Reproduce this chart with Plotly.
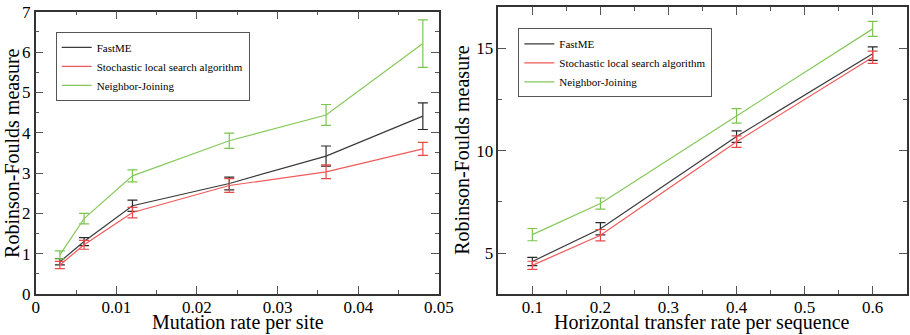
import plotly.graph_objects as go

# ---- data: left panel (mutation rate) ----
mut_rate = [0.003, 0.006, 0.012, 0.024, 0.036, 0.048]
fastme_mut = [0.80, 1.30, 2.19, 2.74, 3.42, 4.41]
fastme_mut_err = [0.08, 0.10, 0.14, 0.16, 0.25, 0.33]
sls_mut = [0.72, 1.22, 2.02, 2.69, 3.03, 3.60]
sls_mut_err = [0.09, 0.11, 0.13, 0.17, 0.17, 0.16]
nj_mut = [0.97, 1.87, 2.93, 3.80, 4.44, 6.21]
nj_mut_err = [0.10, 0.13, 0.15, 0.19, 0.26, 0.59]

# ---- data: right panel (horizontal transfer rate) ----
hgt_rate = [0.1, 0.2, 0.4, 0.6]
fastme_hgt = [4.59, 6.19, 10.69, 14.74]
fastme_hgt_err = [0.20, 0.30, 0.28, 0.33]
sls_hgt = [4.40, 5.87, 10.44, 14.56]
sls_hgt_err = [0.20, 0.28, 0.28, 0.30]
nj_hgt = [5.90, 7.42, 11.70, 15.95]
nj_hgt_err = [0.30, 0.27, 0.35, 0.37]

series_names = ["FastME", "Stochastic local search algorithm", "Neighbor-Joining"]
line_colors = ["#3a3a3a", "#f05a5a", "#86c85a"]
err_colors = ["#2a2a2a", "#e84848", "#7cc450"]

x_titles = ["Mutation rate per site", "Horizontal transfer rate per sequence"]
y_title = "Robinson-Foulds measure"

FONT = "Liberation Serif, Times New Roman, serif"

fig = go.Figure()

left = [(fastme_mut, fastme_mut_err), (sls_mut, sls_mut_err), (nj_mut, nj_mut_err)]
right = [(fastme_hgt, fastme_hgt_err), (sls_hgt, sls_hgt_err), (nj_hgt, nj_hgt_err)]

for i, (y, e) in enumerate(left):
    fig.add_trace(go.Scatter(
        x=mut_rate, y=y, mode="lines", name=series_names[i],
        line=dict(color=line_colors[i], width=1.2),
        error_y=dict(type="data", array=e, visible=True, color=err_colors[i],
                     thickness=1.2, width=5),
        xaxis="x", yaxis="y", legend="legend"))

for i, (y, e) in enumerate(right):
    fig.add_trace(go.Scatter(
        x=hgt_rate, y=y, mode="lines", name=series_names[i],
        line=dict(color=line_colors[i], width=1.2),
        error_y=dict(type="data", array=e, visible=True, color=err_colors[i],
                     thickness=1.2, width=5),
        xaxis="x2", yaxis="y2", legend="legend2"))

axis_common = dict(
    showline=True, linecolor="#333333", linewidth=1.5, mirror="ticks",
    ticks="inside", ticklen=8, tickwidth=1.2, tickcolor="#555555",
    showgrid=False, zeroline=False, automargin=False,
    tickfont=dict(family=FONT, size=17, color="black"),
)

title_font = dict(family=FONT, size=20, color="black")

fig.update_layout(
    width=910, height=335,
    margin=dict(l=0, r=0, t=0, b=0, autoexpand=False),
    paper_bgcolor="white", plot_bgcolor="white",
    font=dict(family=FONT, color="black"),
    xaxis=dict(domain=[0.0392, 0.4824], range=[0, 0.05], dtick=0.01,
               tickformat="~g", ticklabelstandoff=-3,
               minor=dict(ticks="inside", ticklen=4, dtick=0.005, tickcolor="#555555"),
               anchor="y", **axis_common),
    yaxis=dict(domain=[0.1224, 0.965], range=[0, 7], dtick=1,
               minor=dict(ticks="inside", ticklen=4, dtick=0.5, tickcolor="#555555"),
               anchor="x", **axis_common),
    xaxis2=dict(domain=[0.5476, 0.9964], range=[0.05, 0.65], dtick=0.1,
                ticklabelstandoff=-3,
                minor=dict(ticks="inside", ticklen=4, dtick=0.05, tickcolor="#555555"),
                anchor="y2", **axis_common),
    yaxis2=dict(domain=[0.1224, 0.978], range=[3, 17], tickvals=[5, 10, 15],
                minor=dict(ticks="inside", ticklen=4, dtick=2.5, tickcolor="#555555"),
                anchor="x2", **axis_common),
    legend=dict(x=0.0612, y=0.905, xanchor="left", yanchor="top",
                bgcolor="white", bordercolor="#555555", borderwidth=1,
                font=dict(family=FONT, size=11), itemwidth=30, tracegroupgap=0),
    legend2=dict(x=0.5696, y=0.9155, xanchor="left", yanchor="top",
                 bgcolor="white", bordercolor="#555555", borderwidth=1,
                 font=dict(family=FONT, size=11), itemwidth=30, tracegroupgap=0),
    annotations=[
        dict(text=x_titles[0], xref="paper", yref="paper", x=0.2615, y=0.0375,
             xanchor="center", yanchor="middle", showarrow=False, font=title_font),
        dict(text=x_titles[1], xref="paper", yref="paper", x=0.7717, y=0.0375,
             xanchor="center", yanchor="middle", showarrow=False, font=title_font),
        dict(text=y_title, xref="paper", yref="paper", x=0.0137, y=0.5448,
             xanchor="center", yanchor="middle", textangle=-90, showarrow=False, font=title_font),
        dict(text=y_title, xref="paper", yref="paper", x=0.5074, y=0.5522,
             xanchor="center", yanchor="middle", textangle=-90, showarrow=False, font=title_font),
    ],
)

fig.write_html("out.html", config={"displayModeBar": False},
               post_script="document.body.style.margin='0';")
